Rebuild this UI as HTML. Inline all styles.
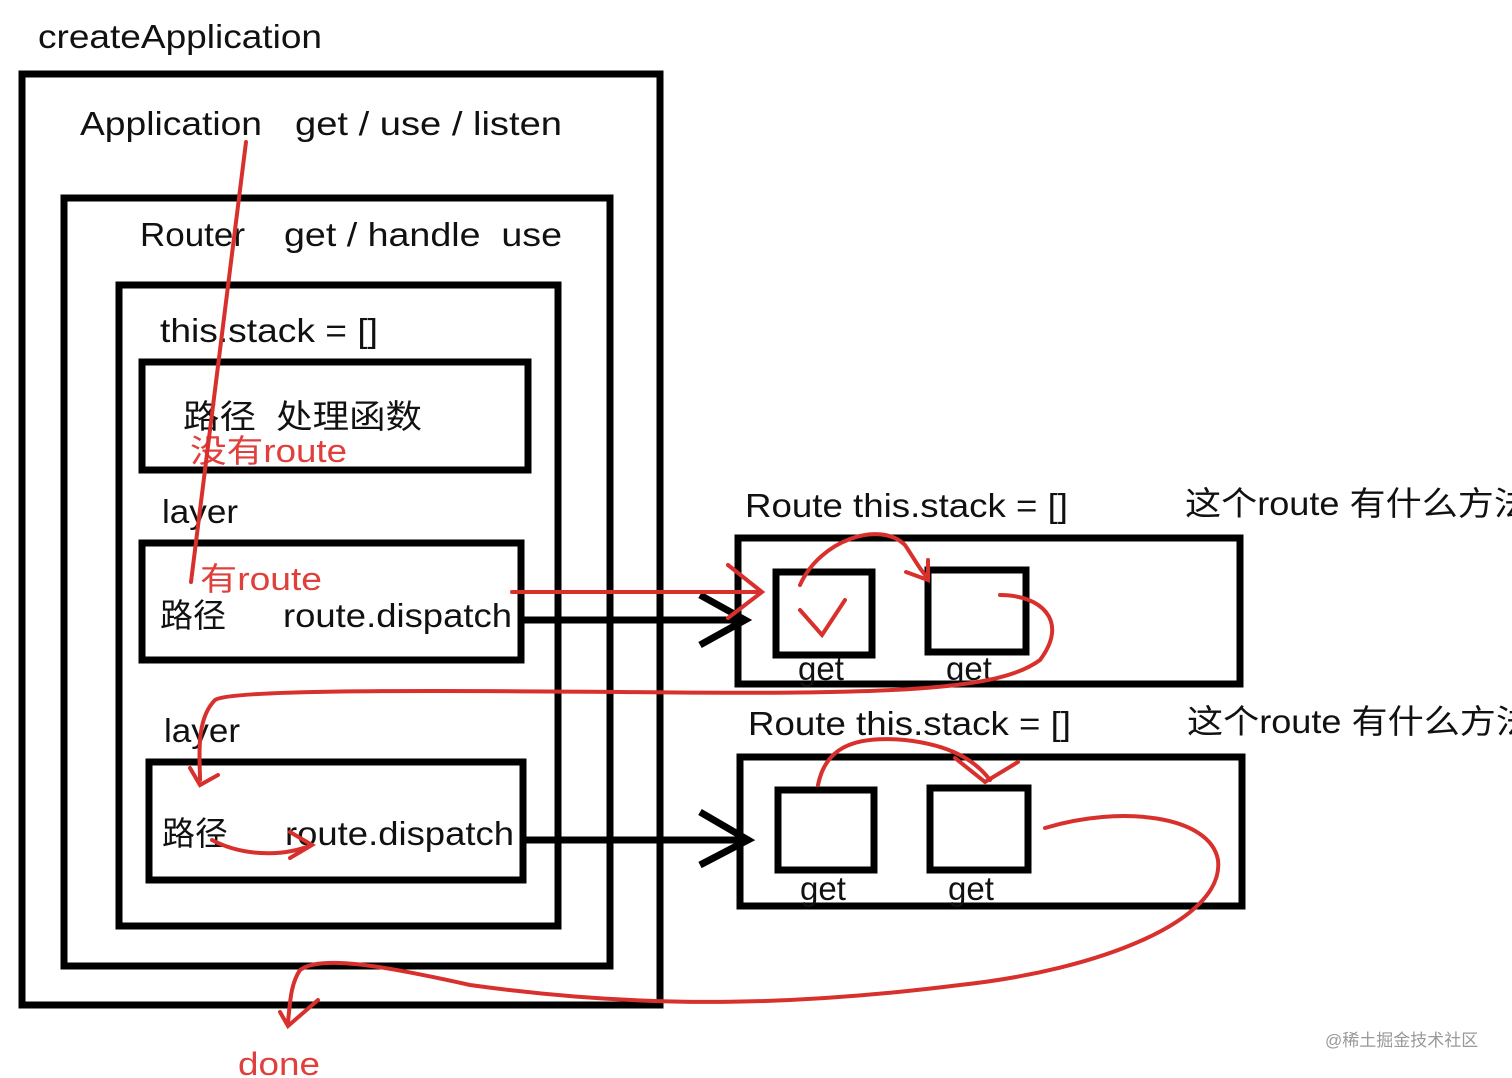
<!DOCTYPE html>
<html><head><meta charset="utf-8"><style>
html,body{margin:0;padding:0;background:#fff;width:1512px;height:1078px;overflow:hidden}
svg text{font-family:"Liberation Sans","Noto Sans CJK SC",sans-serif}
</style></head><body>
<svg width="1512" height="1078" viewBox="0 0 1512 1078" xmlns="http://www.w3.org/2000/svg">
<g fill="none" stroke="#000" stroke-width="7">
<rect x="22" y="74" width="638" height="931"/>
<rect x="64" y="198" width="546" height="768"/>
<rect x="119" y="285" width="439" height="641"/>
<rect x="142" y="362" width="386" height="108"/>
<rect x="142" y="543" width="379" height="117"/>
<rect x="149" y="762" width="374" height="118"/>
<rect x="738" y="538" width="502" height="146"/>
<rect x="776" y="572" width="96" height="83"/>
<rect x="928" y="570" width="98" height="82"/>
<rect x="740" y="757" width="502" height="149"/>
<rect x="778" y="790" width="96" height="80"/>
<rect x="930" y="788" width="98" height="82"/>
<path d="M521 620 L742 620 M700 645 L745 620 L700 595"/>
<path d="M523 840 L745 840 M700 865 L748 840 L700 812"/>
</g>
<g font-size="33" fill="#111" lengthAdjust="spacingAndGlyphs">
<text x="38" y="48" textLength="284" lengthAdjust="spacingAndGlyphs">createApplication</text>
<text x="80" y="135" textLength="182" lengthAdjust="spacingAndGlyphs">Application</text>
<text x="295" y="135" textLength="267" lengthAdjust="spacingAndGlyphs">get / use / listen</text>
<text x="140" y="246" textLength="105" lengthAdjust="spacingAndGlyphs">Router</text>
<text x="284" y="246" textLength="278" lengthAdjust="spacingAndGlyphs">get / handle&#160;&#160;use</text>
<text x="160" y="342" textLength="218" lengthAdjust="spacingAndGlyphs">this.stack = []</text>
<text x="183" y="428" textLength="239" lengthAdjust="spacingAndGlyphs">路径&#160;&#160;处理函数</text>
<text x="162" y="523" textLength="76" lengthAdjust="spacingAndGlyphs">layer</text>
<text x="160" y="627">路径</text>
<text x="283" y="627" textLength="229" lengthAdjust="spacingAndGlyphs">route.dispatch</text>
<text x="164" y="742" textLength="76" lengthAdjust="spacingAndGlyphs">layer</text>
<text x="162" y="845">路径</text>
<text x="285" y="845" textLength="229" lengthAdjust="spacingAndGlyphs">route.dispatch</text>
<text x="745" y="517" textLength="323" lengthAdjust="spacingAndGlyphs">Route this.stack = []</text>
<text x="1185" y="515" textLength="345" lengthAdjust="spacingAndGlyphs">这个route 有什么方法</text>
<text x="748" y="735" textLength="323" lengthAdjust="spacingAndGlyphs">Route this.stack = []</text>
<text x="1187" y="733" textLength="345" lengthAdjust="spacingAndGlyphs">这个route 有什么方法</text>
<text x="798" y="680">get</text>
<text x="946" y="680">get</text>
<text x="800" y="900">get</text>
<text x="948" y="900">get</text>
</g>
<g font-size="32" fill="#e0403c">
<text x="190" y="462" textLength="157" lengthAdjust="spacingAndGlyphs">没有route</text>
<text x="200" y="590" textLength="122" lengthAdjust="spacingAndGlyphs">有route</text>
<text x="238" y="1075" textLength="82" lengthAdjust="spacingAndGlyphs">done</text>
</g>
<text x="1325" y="1046" font-size="17" fill="#999">@稀土掘金技术社区</text>
<g fill="none" stroke="#d8302c" stroke-width="4" stroke-linecap="round">
<path d="M246 142 L191 582"/>
<path d="M512 592 L760 592 M728 565 L762 592 L728 618"/>
<path d="M800 610 L822 635 L845 600"/>
<path d="M800 585 C820 540 880 520 905 545 C915 560 920 570 928 578 M906 572 L928 580 L928 560"/>
<path d="M1000 595 C1040 595 1070 620 1040 660 C1000 690 900 695 620 692 C400 690 230 690 215 700 C195 720 200 760 200 780 M190 768 L200 785 L218 775"/>
<path d="M818 785 C825 750 850 735 905 740 C950 745 975 760 990 780 M955 758 L985 782 L1018 762"/>
<path d="M212 840 C240 855 280 858 312 845 M290 832 L312 845 L290 858"/>
<path d="M1045 828 C1120 805 1210 815 1218 860 C1225 920 1100 970 960 985 C800 1005 650 1010 470 985 C380 965 320 955 300 970 C290 985 290 1005 288 1022 M280 1012 L288 1026 L318 1000"/>
</g>
</svg>
</body></html>
